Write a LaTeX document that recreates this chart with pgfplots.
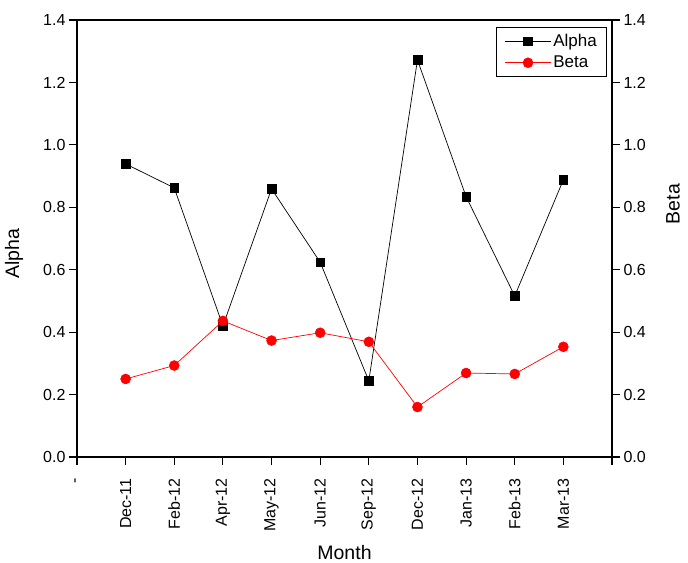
\documentclass[border=0pt]{standalone}
\usepackage{pgfplots}
\usepackage{pgfplotstable}
\pgfplotsset{compat=1.18}
\usepackage{fontspec}
\setmainfont{Liberation Sans}

% Monthly values of the two parameters
\pgfplotstableread{
idx alpha beta
0 0.939 0.250
1 0.862 0.293
2 0.420 0.436
3 0.859 0.373
4 0.624 0.398
5 0.244 0.369
6 1.272 0.160
7 0.834 0.269
8 0.516 0.266
9 0.888 0.353
}\monthdata

\begin{document}
\begin{tikzpicture}
\pgfplotsset{
  common/.style={
    scale only axis, width=535pt, height=437pt,
    xmin=-1, xmax=10, ymin=0, ymax=1.4,
    ytick={0,0.2,0.4,0.6,0.8,1.0,1.2,1.4},
    tick align=outside, major tick length=8pt,
    axis line style={line width=1.1pt},
    every tick/.style={line width=1.1pt, black},
    tick label style={font=\fontsize{16}{19}\selectfont},
    label style={font=\fontsize{19.5}{22}\selectfont},
    /pgf/number format/assume math mode=true,
    yticklabel style={/pgf/number format/.cd, fixed, fixed zerofill, precision=1},
  },
}
\begin{axis}[common,
  xtick={-1,0,1,2,3,4,5,6,7,8,9,10},
  xticklabels={-, Dec-11, Feb-12, Apr-12, May-12, Jun-12, Sep-12, Dec-12, Jan-13, Feb-13, Mar-13, {}},
  xticklabel style={rotate=90, anchor=east},
  xticklabel shift=10pt,
  ytick pos=left, xtick pos=bottom,
  xlabel={Month}, ylabel={Alpha},
  xlabel style={at={(axis description cs:0.5,-0.2190)}, anchor=center},
  ylabel style={at={(axis description cs:-0.1178,0.465)}, anchor=center},
  legend style={at={(axis description cs:0.991,0.984)}, anchor=north east,
    font=\fontsize{17}{20}\selectfont, draw=black, line width=0.7pt,
    inner xsep=8pt, inner ysep=5pt, row sep=4pt, cells={anchor=west},
    /tikz/every even column/.append style={column sep=5pt}},
  legend image code/.code={
    \draw[#1, mark=none] (0pt,0pt) -- (46pt,0pt);
    \draw[#1, only marks] plot coordinates {(23pt,0pt)};
  },
]
\coordinate (bl) at (rel axis cs:0,0);
\coordinate (tr) at (rel axis cs:1,1);
\addplot[black, line width=0.7pt, mark=square*, mark size=4.3pt,
  mark options={solid, fill=black, line width=0.5pt}] table[x=idx, y=alpha] {\monthdata};
\addlegendentry{Alpha}
\addlegendimage{red, line width=0.7pt, mark=*, mark size=5pt,
  mark options={solid, fill=red, line width=0.5pt}}
\addlegendentry{Beta}
\end{axis}
\begin{axis}[common,
  axis x line=none, axis y line*=right,
  ytick pos=right,
  ylabel={Beta},
  ylabel style={at={(axis description cs:1.114,0.579)}, anchor=center},
]
\addplot[red, line width=0.7pt, mark=*, mark size=5pt,
  mark options={solid, fill=red, line width=0.5pt}] table[x=idx, y=beta] {\monthdata};
\end{axis}
\pgfresetboundingbox
\path[use as bounding box] ([xshift=-77pt,yshift=-106pt]bl) rectangle ([xshift=76pt,yshift=20pt]tr);
\end{tikzpicture}
\end{document}
